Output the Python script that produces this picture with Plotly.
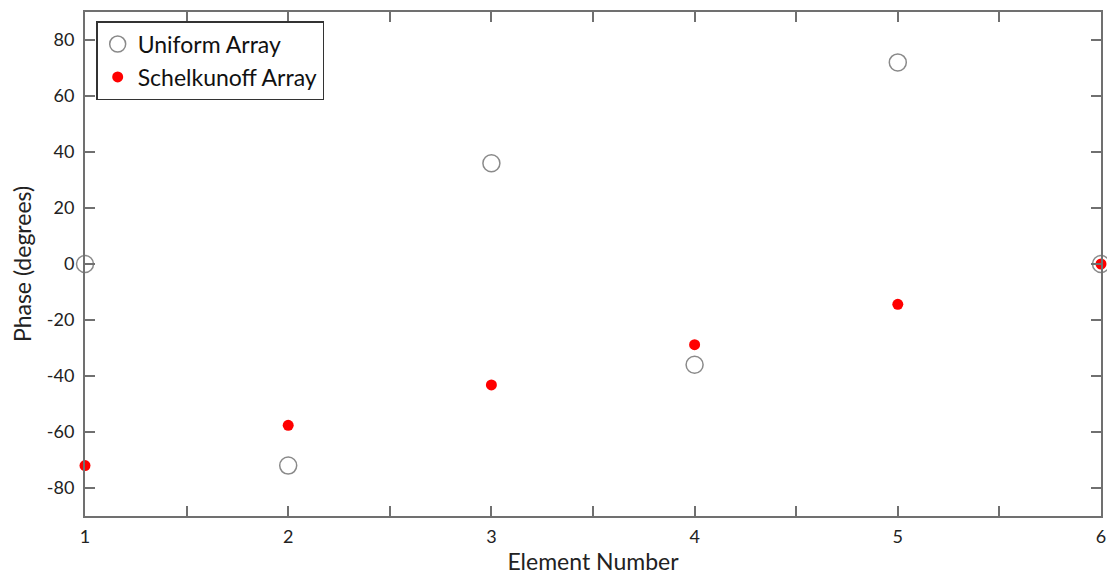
import plotly.graph_objects as go

elements = [1, 2, 3, 4, 5, 6]
uniform_phase = [0, -72, 36, -36, 72, 0]
schelkunoff_phase = [-72, -57.6, -43.2, -28.8, -14.4, 0]
x_ticks = [1, 2, 3, 4, 5, 6]
y_ticks = [-80, -60, -40, -20, 0, 20, 40, 60, 80]

font_family = "Lato, Open Sans, sans-serif"
axis_color = "#707070"

fig = go.Figure()
fig.add_trace(go.Scatter(
    x=elements, y=uniform_phase, mode="markers", name="Uniform Array",
    marker=dict(symbol="circle-open", size=17, color="#8a8a8a", line=dict(width=1.5)),
    cliponaxis=False,
))
fig.add_trace(go.Scatter(
    x=elements, y=schelkunoff_phase, mode="markers", name="Schelkunoff Array",
    marker=dict(symbol="circle", size=11, color="#ff0000"),
    cliponaxis=False,
))

fig.update_layout(
    width=1107, height=567,
    margin=dict(l=77, r=14, t=2, b=59),
    paper_bgcolor="white", plot_bgcolor="white",
    font=dict(family=font_family, size=18, color="#222222"),
    showlegend=True,
    legend=dict(
        x=0.011, y=0.982, xanchor="left", yanchor="top",
        bordercolor="#333333", borderwidth=1.5, bgcolor="white",
        font=dict(size=23, family=font_family, color="#111111"),
        tracegroupgap=0, itemsizing="trace",
    ),
    xaxis=dict(
        range=[1, 6], tickvals=x_ticks, ticktext=[str(v) for v in x_ticks],
        ticks="inside", ticklen=10, tickwidth=1.5, tickcolor=axis_color,
        minor=dict(ticks="inside", dtick=0.5, ticklen=10, tickwidth=1.5, tickcolor=axis_color, showgrid=False),
        showline=True, linecolor=axis_color, linewidth=2, mirror="ticks",
        showgrid=False, zeroline=False, ticklabelstandoff=3,
        title=dict(text="Element Number", font=dict(size=23, family=font_family), standoff=9),
        tickfont=dict(size=18),
    ),
    yaxis=dict(
        range=[-90, 90], tickvals=y_ticks, ticktext=[str(v) for v in y_ticks],
        ticks="inside", ticklen=10, tickwidth=1.5, tickcolor=axis_color,
        showline=True, linecolor=axis_color, linewidth=2, mirror="ticks",
        showgrid=False, zeroline=False, ticklabelstandoff=5,
        title=dict(text="Phase (degrees)", font=dict(size=23, family=font_family), standoff=12),
        tickfont=dict(size=18),
    ),
)

fig.write_html("out.html")
